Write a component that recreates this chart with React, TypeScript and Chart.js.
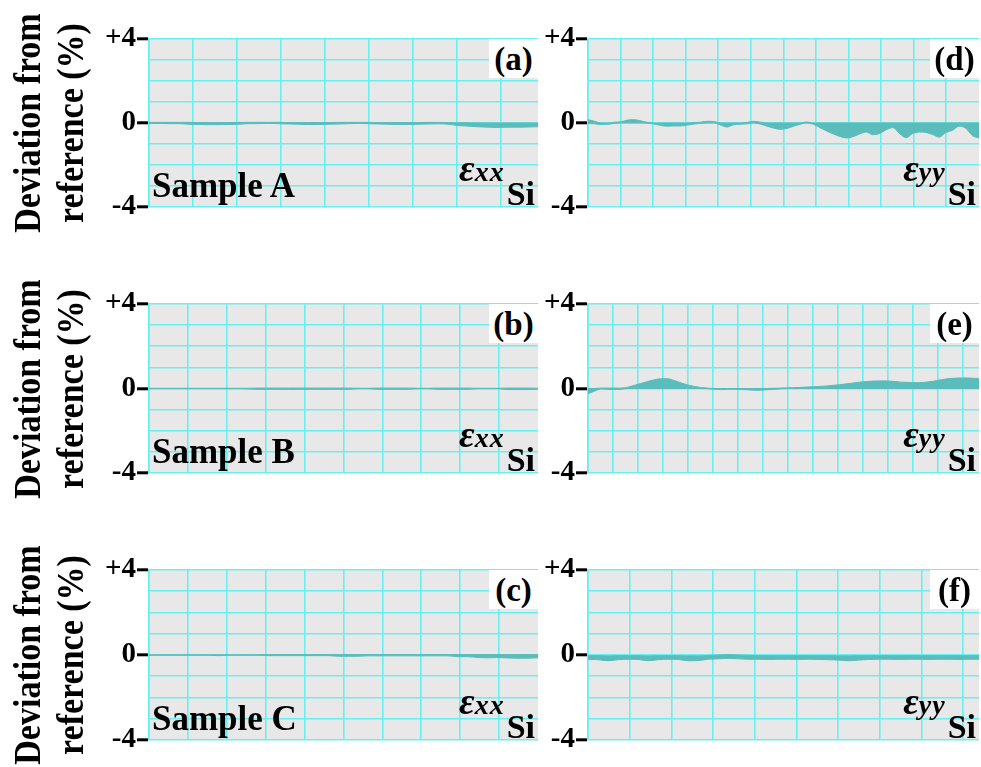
import React, { useEffect, useRef } from "react";
import { Chart, registerables } from "chart.js";
Chart.register(...registerables);

// ---------- data (deviation from reference, %) sampled uniformly along each panel ----------
const aUpper = [0.03,0.03,0.03,0.03,0.03,0.02,0.02,0.02,0.02,0.03,0.03,0.03,0.03,0.03,0.02,0.02,0.02,0.02,0.02,0.03,0.03,0.03,0.03,0.02,0.02,0.02,0.02,0.02,0.03,0.03,0.02,0.01,0.01,0.0,0.0,0.0,0.0,0.0,0.0,0.0];
const aLower = [-0.02,-0.02,-0.03,-0.03,-0.06,-0.07,-0.08,-0.08,-0.07,-0.06,-0.03,-0.03,-0.02,-0.03,-0.05,-0.06,-0.07,-0.07,-0.06,-0.05,-0.03,-0.02,-0.03,-0.05,-0.06,-0.07,-0.07,-0.06,-0.05,-0.04,-0.06,-0.12,-0.15,-0.18,-0.2,-0.21,-0.2,-0.2,-0.19,-0.18];

const bUpper = [0.01,0.01,0.01,0.01,0.01,0.01,0.01,0.01,0.01,0.01,0.01,0.02,0.02,0.02,0.02,0.02,0.02,0.02,0.02,0.02,0.02,0.01,0.01,0.02,0.02,0.02,0.02,0.01,0.01,0.02,0.02,0.02,0.02,0.01,0.01,0.01,0.02,0.02,0.02,0.01];
const bLower = [-0.01,-0.01,-0.01,-0.01,-0.01,-0.01,-0.01,-0.01,-0.01,-0.01,-0.02,-0.04,-0.04,-0.04,-0.04,-0.04,-0.04,-0.04,-0.04,-0.04,-0.04,-0.01,-0.01,-0.04,-0.04,-0.04,-0.04,-0.01,-0.01,-0.04,-0.04,-0.04,-0.04,-0.01,-0.01,-0.01,-0.05,-0.05,-0.05,-0.03];

const cUpper = [0.01,0.01,0.01,0.01,0.01,0.01,0.01,0.01,0.01,0.01,0.01,0.01,0.02,0.02,0.02,0.02,0.02,0.02,0.02,0.02,0.02,0.02,0.02,0.02,0.02,0.02,0.02,0.02,0.02,0.02,0.02,0.02,0.02,0.02,0.02,0.02,0.02,0.02,0.02,0.02];
const cLower = [-0.01,-0.01,-0.01,-0.01,-0.01,-0.01,-0.01,-0.03,-0.01,-0.01,-0.01,-0.01,-0.03,-0.03,-0.03,-0.03,-0.03,-0.03,-0.03,-0.06,-0.06,-0.06,-0.04,-0.04,-0.04,-0.04,-0.04,-0.04,-0.04,-0.04,-0.04,-0.08,-0.08,-0.12,-0.13,-0.12,-0.14,-0.15,-0.15,-0.13];

const dUpper = [0.16,0.08,0.0,0.0,0.04,0.06,0.14,0.16,0.1,0.03,0.0,0.0,0.0,0.0,0.0,0.0,0.02,0.04,0.08,0.07,0.0,0.0,0.0,0.0,0.03,0.08,0.04,0.0,0.0,0.0,0.0,0.0,0.0,0.05,0.0,0.0,0.0,0.0,0.0,0.0,0.0,0.0,0.0,0.0,0.0,0.0,0.0,0.0,0.0,0.0,0.0,0.0,0.0,0.0,0.0,0.0,0.0,0.0,0.0,0.0];
const dLower = [-0.02,-0.04,-0.07,-0.06,-0.02,0.0,0.0,0.0,0.0,-0.01,-0.05,-0.12,-0.15,-0.14,-0.14,-0.1,-0.05,-0.02,0.0,0.0,-0.1,-0.19,-0.08,-0.06,-0.04,0.0,-0.05,-0.15,-0.24,-0.3,-0.26,-0.16,-0.06,0.0,-0.06,-0.22,-0.38,-0.52,-0.64,-0.71,-0.65,-0.52,-0.43,-0.56,-0.5,-0.32,-0.22,-0.5,-0.7,-0.5,-0.43,-0.45,-0.55,-0.67,-0.45,-0.35,-0.15,-0.25,-0.6,-0.72];

const eUpper = [0.0,0.0,0.02,0.02,0.02,0.02,0.06,0.15,0.24,0.33,0.41,0.46,0.46,0.38,0.27,0.17,0.1,0.05,0.02,0.0,0.0,0.0,0.0,0.0,0.0,0.0,0.0,0.0,0.01,0.02,0.03,0.04,0.05,0.07,0.08,0.1,0.12,0.15,0.18,0.22,0.26,0.3,0.33,0.35,0.36,0.36,0.34,0.31,0.29,0.28,0.28,0.3,0.34,0.4,0.45,0.48,0.5,0.5,0.49,0.47];
const eLower = [-0.25,-0.12,-0.02,-0.04,-0.05,-0.04,0.0,0.0,0.0,0.0,0.0,0.0,0.0,0.0,0.0,0.0,0.0,0.0,-0.01,-0.04,-0.05,-0.04,-0.04,-0.05,-0.06,-0.08,-0.08,-0.06,-0.04,-0.02,0.0,0.0,0.0,0.0,0.0,0.0,0.0,0.0,0.0,0.0,0.0,0.0,0.0,0.0,0.0,0.0,0.0,0.0,0.0,0.0,0.0,0.0,0.0,0.0,0.0,0.0,0.0,0.0,0.0,0.0];

const fUpper = [-0.03,-0.03,-0.04,-0.03,-0.03,-0.03,-0.04,-0.03,-0.03,-0.03,-0.04,-0.04,-0.02,0.0,0.02,0.0,-0.02,-0.03,-0.03,-0.03,-0.03,-0.03,-0.03,-0.03,-0.03,-0.04,-0.04,-0.03,-0.03,-0.03,-0.03,-0.03,-0.03,-0.03,-0.03,-0.03,-0.03,-0.03,-0.03,-0.03];
const fLower = [-0.2,-0.22,-0.27,-0.22,-0.2,-0.21,-0.27,-0.22,-0.2,-0.21,-0.27,-0.26,-0.2,-0.18,-0.16,-0.18,-0.2,-0.2,-0.21,-0.2,-0.2,-0.21,-0.2,-0.21,-0.22,-0.24,-0.27,-0.24,-0.21,-0.2,-0.2,-0.21,-0.2,-0.2,-0.21,-0.2,-0.2,-0.21,-0.2,-0.2];

const Y_TICKS = [-4, -3, -2, -1, 0, 1, 2, 3, 4];
const Y_LABELS: Record<string, string> = { "4": "+4", "0": "0", "-4": "-4" };
const PANEL_LETTERS = ["(a)", "(b)", "(c)", "(d)", "(e)", "(f)"];
const SAMPLE_NAMES = ["Sample A", "Sample B", "Sample C"];
const AXIS_TITLE = ["Deviation from", "reference (%)"];
const COMPONENTS = ["xx", "yy"];
// x grid spacing as a fraction of the panel width
const GRID_STEPS = [0.1129, 0.1, 0.1, 0.0833, 0.0639, 0.1066];

// ---------- styling / layout ----------
const TEAL = "#5bbcbc";
const GRID = "#66f0f0";
const BG = "#e8e8e8";
const SERIF = '"Liberation Serif", "Times New Roman", serif';
const COLS = [
  { left: 149, right: 538 },
  { left: 588, right: 979 },
];
const ROWS = [
  { top: 39, bottom: 207 },
  { top: 304, bottom: 473 },
  { top: 570, bottom: 740 },
];
const AXW = 60;
const PAD = 20;

const bgPlugin = {
  id: "panelBg",
  beforeDraw(chart: any) {
    const { ctx, chartArea } = chart;
    ctx.save();
    ctx.fillStyle = BG;
    ctx.fillRect(chartArea.left, chartArea.top, chartArea.right - chartArea.left, chartArea.bottom - chartArea.top);
    ctx.restore();
  },
};

type PanelCfg = {
  upper: number[];
  lower: number[];
  step: number;
  col: number;
  row: number;
  letter: string;
  comp: string;
  sample?: string;
};

const PANELS: PanelCfg[] = [
  { upper: aUpper, lower: aLower, step: GRID_STEPS[0], col: 0, row: 0, letter: PANEL_LETTERS[0], comp: COMPONENTS[0], sample: SAMPLE_NAMES[0] },
  { upper: bUpper, lower: bLower, step: GRID_STEPS[1], col: 0, row: 1, letter: PANEL_LETTERS[1], comp: COMPONENTS[0], sample: SAMPLE_NAMES[1] },
  { upper: cUpper, lower: cLower, step: GRID_STEPS[2], col: 0, row: 2, letter: PANEL_LETTERS[2], comp: COMPONENTS[0], sample: SAMPLE_NAMES[2] },
  { upper: dUpper, lower: dLower, step: GRID_STEPS[3], col: 1, row: 0, letter: PANEL_LETTERS[3], comp: COMPONENTS[1] },
  { upper: eUpper, lower: eLower, step: GRID_STEPS[4], col: 1, row: 1, letter: PANEL_LETTERS[4], comp: COMPONENTS[1] },
  { upper: fUpper, lower: fLower, step: GRID_STEPS[5], col: 1, row: 2, letter: PANEL_LETTERS[5], comp: COMPONENTS[1] },
];

function Panel({ cfg }: { cfg: PanelCfg }) {
  const ref = useRef<HTMLCanvasElement>(null);
  const c = COLS[cfg.col];
  const r = ROWS[cfg.row];
  const plotW = c.right - c.left;
  const plotH = r.bottom - r.top;
  const cw = plotW + AXW + 2;
  const ch = plotH + 2 * PAD;

  useEffect(() => {
    const n = cfg.upper.length;
    const toPts = (arr: number[]) => arr.map((y, i) => ({ x: i / (n - 1), y }));
    const xTicks: number[] = [];
    for (let k = 0; k * cfg.step < 0.999; k++) xTicks.push(+(k * cfg.step).toFixed(4));
    const chart = new Chart(ref.current as HTMLCanvasElement, {
      type: "line",
      data: {
        datasets: [
          {
            data: toPts(cfg.upper),
            borderColor: TEAL,
            borderWidth: 1,
            pointRadius: 0,
            fill: false,
            cubicInterpolationMode: "monotone",
          },
          {
            data: toPts(cfg.lower),
            borderColor: TEAL,
            borderWidth: 1,
            pointRadius: 0,
            backgroundColor: TEAL,
            fill: "-1",
            cubicInterpolationMode: "monotone",
          },
        ],
      },
      options: {
        animation: false,
        responsive: false,
        devicePixelRatio: 1,
        layout: { padding: { top: PAD, bottom: PAD, left: 0, right: 2 } },
        plugins: { legend: { display: false }, tooltip: { enabled: false } },
        scales: {
          x: {
            type: "linear",
            min: 0,
            max: 1,
            afterBuildTicks: (ax: any) => {
              ax.ticks = xTicks.map((v) => ({ value: v }));
            },
            ticks: { display: false },
            grid: { color: GRID, lineWidth: 1.6, drawTicks: false },
            border: { display: false },
          },
          y: {
            type: "linear",
            min: -4,
            max: 4,
            afterBuildTicks: (ax: any) => {
              ax.ticks = Y_TICKS.map((v) => ({ value: v }));
            },
            afterFit: (ax: any) => {
              ax.width = AXW;
            },
            ticks: {
              autoSkip: false,
              padding: 1,
              color: "#000",
              font: { family: SERIF, weight: "bold", size: 29 },
              callback: (v: any) => Y_LABELS[String(v)] ?? "",
            },
            grid: {
              color: GRID,
              lineWidth: 1.6,
              tickLength: 12,
              tickWidth: 3,
              tickColor: (ctx: any) => (ctx.tick && Y_LABELS[String(ctx.tick.value)] !== undefined ? "#000" : "rgba(0,0,0,0)"),
            },
            border: { color: GRID, width: 1.6 },
          },
        },
      },
      plugins: [bgPlugin],
    } as any);
    return () => chart.destroy();
  }, []);

  const fs = 33;
  return (
    <>
      <canvas
        ref={ref}
        width={cw}
        height={ch}
        style={{ position: "absolute", left: c.left - AXW, top: r.top - PAD, width: cw, height: ch }}
      />
      {/* panel letter in white box */}
      <div
        style={{
          position: "absolute",
          left: c.right - 49,
          top: r.top,
          width: 49,
          height: 39,
          background: "#fff",
        }}
      />
      <div
        style={{
          position: "absolute",
          left: c.right - 49,
          width: 49,
          top: r.top + 32 - 0.8375 * fs,
          fontFamily: SERIF,
          fontWeight: "bold",
          fontSize: fs,
          lineHeight: fs + "px",
          textAlign: "center",
          color: "#000",
        }}
      >
        {cfg.letter}
      </div>
      {cfg.sample && (
        <div
          style={{
            position: "absolute",
            left: c.left + 3,
            top: r.bottom - 10 - 0.8375 * 35,
            fontFamily: SERIF,
            fontWeight: "bold",
            fontSize: 35,
            lineHeight: "35px",
            whiteSpace: "nowrap",
            color: "#000",
          }}
        >
          {cfg.sample}
        </div>
      )}
      {/* strain component label */}
      <div
        style={{
          position: "absolute",
          right: 981 - (c.right - 3),
          top: r.bottom - 3 - 0.8375 * fs,
          fontFamily: SERIF,
          fontSize: fs,
          lineHeight: fs + "px",
          whiteSpace: "nowrap",
          color: "#000",
        }}
      >
        <span style={{ position: "relative", top: -24, fontFamily: SERIF, fontStyle: "italic", fontWeight: "bold", fontSize: 38 }}>
          ε<span style={{ fontSize: 28, letterSpacing: 1 }}>{cfg.comp}</span>
        </span>
        <span style={{ fontWeight: "bold", fontSize: 34, marginLeft: 2 }}>Si</span>
      </div>
    </>
  );
}

function AxisTitle({ cy }: { cy: number }) {
  const W = 300;
  const H = 76;
  return (
    <div
      style={{
        position: "absolute",
        left: 49 - W / 2,
        top: cy - H / 2,
        width: W,
        height: H,
        transform: "rotate(-90deg) scaleY(1.12)",
        transformOrigin: "50% 50%",
        textAlign: "center",
        fontFamily: SERIF,
        fontWeight: "bold",
        fontSize: 34,
        lineHeight: "38px",
        color: "#000",
        whiteSpace: "nowrap",
      }}
    >
      {AXIS_TITLE[0]}
      <br />
      {AXIS_TITLE[1]}
    </div>
  );
}

export default function App() {
  return (
    <div
      style={{
        position: "fixed",
        left: 0,
        top: 0,
        width: 981,
        height: 767,
        background: "#fff",
        overflow: "hidden",
      }}
    >
      {PANELS.map((p, i) => (
        <Panel key={i} cfg={p} />
      ))}
      {ROWS.map((r, i) => (
        <AxisTitle key={i} cy={(r.top + r.bottom) / 2} />
      ))}
    </div>
  );
}
